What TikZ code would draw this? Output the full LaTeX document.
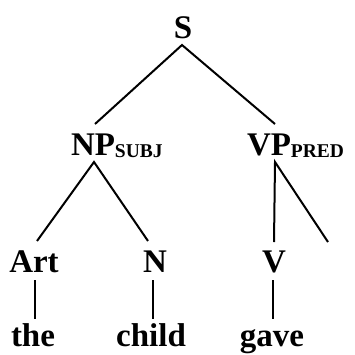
\documentclass[tikz,border=0pt]{standalone}
\usepackage{fontspec}
\setmainfont{Liberation Serif}
\begin{document}
\begin{tikzpicture}[x=1pt,y=-1pt,
  lab/.style={inner sep=0pt,outer sep=0pt,font=\fontsize{33}{33}\selectfont\bfseries},
  edge/.style={line width=2pt,line cap=butt}]
\useasboundingbox (0,0) rectangle (355,354);
\newcommand{\subl}[1]{\raisebox{-2pt}{\fontsize{19.5}{19.5}\selectfont\bfseries #1}}
% labels
\node[lab,anchor=base] (S) at (183,38) {S};
\node[lab,anchor=base west] (NP) at (71,155) {NP\subl{SUBJ}};
\node[lab,anchor=base west] (VP) at (247,155) {VP\subl{PRED}};
\node[lab,anchor=base] (Art) at (34,272) {Art};
\node[lab,anchor=base] (N) at (155,272) {N};
\node[lab,anchor=base] (V) at (274,272) {V};
\node[lab,anchor=base] (the) at (33,346) {the};
\node[lab,anchor=base] (child) at (151,346) {child};
\node[lab,anchor=base] (gave) at (272,346) {gave};
% connector ends
\coordinate (Sb) at (182,45);
\coordinate (NPt) at (95,124);
\coordinate (VPt) at (275,124);
\coordinate (NPb) at (94,162);
\coordinate (VPb) at (275,162);
\coordinate (Artt) at (37,241);
\coordinate (Nt) at (148,241);
\coordinate (Vt) at (274,242);
\coordinate (Xt) at (328,242);
\coordinate (Artb) at (35,280);
\coordinate (thet) at (35,319);
\coordinate (Nb) at (153,280);
\coordinate (childt) at (153,319);
\coordinate (Vb) at (273,280);
\coordinate (gavet) at (273,319);
% connectors
\draw[edge] (NPt) -- (Sb) -- (VPt);
\draw[edge] (Artt) -- (NPb) -- (Nt);
\draw[edge] (Vt) -- (VPb) -- (Xt);
\draw[edge] (Artb) -- (thet);
\draw[edge] (Nb) -- (childt);
\draw[edge] (Vb) -- (gavet);
\end{tikzpicture}
\end{document}
